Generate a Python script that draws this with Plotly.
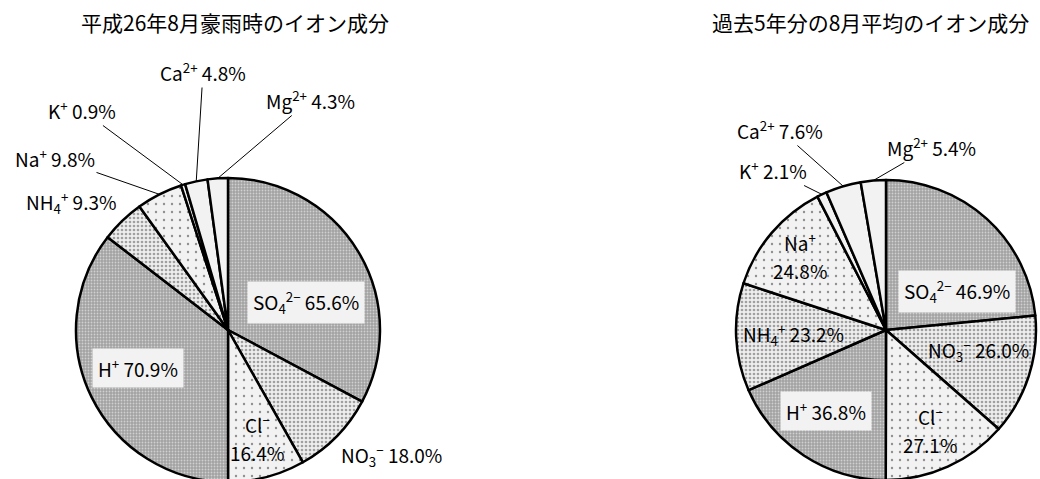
import math
import plotly.graph_objects as go

# ---- data ----
ion_keys = ["SO4", "NO3", "Cl", "H", "NH4", "Na", "K", "Ca", "Mg"]
ion_labels = ["SO<sub>4</sub><sup>2−</sup>", "NO<sub>3</sub><sup>−</sup>", "Cl<sup>−</sup>",
              "H<sup>+</sup>", "NH<sub>4</sub><sup>+</sup>", "Na<sup>+</sup>",
              "K<sup>+</sup>", "Ca<sup>2+</sup>", "Mg<sup>2+</sup>"]
storm_values = [65.6, 18.0, 16.4, 70.9, 9.3, 9.8, 0.9, 4.8, 4.3]
avg_values = [46.9, 26.0, 27.1, 36.8, 23.2, 24.8, 2.1, 7.6, 5.4]
titles = ["平成26年8月豪雨時のイオン成分", "過去5年分の8月平均のイオン成分"]

# ---- styles ----
W, H = 1040, 520
FONT = "Noto Sans CJK JP"
colors = ["#a2a2a2", "#eeeeee", "#f2f2f2", "#a2a2a2", "#eeeeee", "#f2f2f2", "#f2f2f2", "#f2f2f2", "#f2f2f2"]
pat_shape = [".", ".", ".", ".", ".", ".", "", "", ""]
pat_fg = ["#d0d0d0", "#a0a0a0", "#909090", "#d0d0d0", "#a0a0a0", "#909090", "#000", "#000", "#000"]
pat_size = [3, 4, 8, 3, 4, 8, 8, 8, 8]
pat_sol = [0.3, 0.35, 0.07, 0.3, 0.35, 0.07, 0.1, 0.1, 0.1]

# pie geometry in px (center x, center y from top, radius)
geoms = [(228, 330, 152), (886, 330, 150)]

# label layout: (text center x, y in px, mode)
storm_pos = {"SO4": (306, 303, "box"), "NO3": (391, 455, "plain"), "Cl": (257, 438, "two"),
             "H": (138, 368, "box"), "NH4": (71, 203, "plain"), "Na": (55, 158, "lead"),
             "K": (82, 110, "lead"), "Ca": (203, 72, "lead"), "Mg": (310, 100, "lead")}
avg_pos = {"SO4": (957, 291, "box"), "NO3": (978, 350, "plain"), "Cl": (930, 430, "two"),
           "H": (826, 411, "box"), "NH4": (793, 335, "plain"), "Na": (800, 256, "two"),
           "K": (773, 170, "lead"), "Ca": (780, 130, "lead"), "Mg": (931, 147, "lead")}
title_pos = [(235, 22), (870, 22)]
LINE_GAP = 29


def px2paper(x, y):
    return x / W, (H - y) / H


fig = go.Figure()
annotations = []
for values, (cx, cy, r), pos in [(storm_values, geoms[0], storm_pos), (avg_values, geoms[1], avg_pos)]:
    fig.add_trace(go.Pie(
        values=values, labels=ion_keys, sort=False, direction="clockwise", rotation=0,
        textinfo="none", hoverinfo="label+value", showlegend=False,
        domain=dict(x=[(cx - r) / W, (cx + r) / W], y=[(H - cy - r) / H, (H - cy + r) / H]),
        marker=dict(colors=colors, line=dict(color="black", width=2.5),
                    pattern=dict(shape=pat_shape, fgcolor=pat_fg, bgcolor=colors, size=pat_size,
                                 solidity=pat_sol, fillmode="replace")),
    ))
    total = sum(values)
    cum = 0.0
    for key, lab, v in zip(ion_keys, ion_labels, values):
        mid = (cum + v / 2) / total * 2 * math.pi
        cum += v
        tx, ty, mode = pos[key]
        pct = f"{v:.1f}%"
        font = dict(family=FONT, size=19, color="black")
        if mode == "lead":
            ex = cx + r * math.sin(mid)
            ey = cy - r * math.cos(mid)
            px, py = px2paper(ex, ey)
            annotations.append(dict(x=px, y=py, xref="paper", yref="paper",
                                    text=f"{lab} {pct}", showarrow=True, arrowhead=0,
                                    arrowwidth=1, arrowcolor="black", standoff=0,
                                    ax=tx - ex, ay=ty - ey, font=font))
        elif mode == "two":
            for t, dy in [(lab, -LINE_GAP / 2), (pct, LINE_GAP / 2)]:
                px, py = px2paper(tx, ty + dy)
                annotations.append(dict(x=px, y=py, xref="paper", yref="paper", text=t,
                                        showarrow=False, xanchor="center", yanchor="middle",
                                        font=font))
        else:
            px, py = px2paper(tx, ty)
            a = dict(x=px, y=py, xref="paper", yref="paper", text=f"{lab} {pct}", showarrow=False,
                     xanchor="center", yanchor="middle", font=font)
            if mode == "box":
                a.update(bgcolor="#f2f2f2", borderpad=5)
            annotations.append(a)

for t, (tx, ty) in zip(titles, title_pos):
    px, py = px2paper(tx, ty)
    annotations.append(dict(x=px, y=py, xref="paper", yref="paper", text=t, showarrow=False,
                            xanchor="center", yanchor="middle",
                            font=dict(family=FONT, size=21, color="black")))

fig.update_layout(width=W, height=H, margin=dict(l=0, r=0, t=0, b=0),
                  paper_bgcolor="white", plot_bgcolor="white", annotations=annotations)

fig.write_html("out.html",
               post_script="document.documentElement.style.overflow='hidden';document.body.style.overflow='hidden';document.body.style.margin='0';")
